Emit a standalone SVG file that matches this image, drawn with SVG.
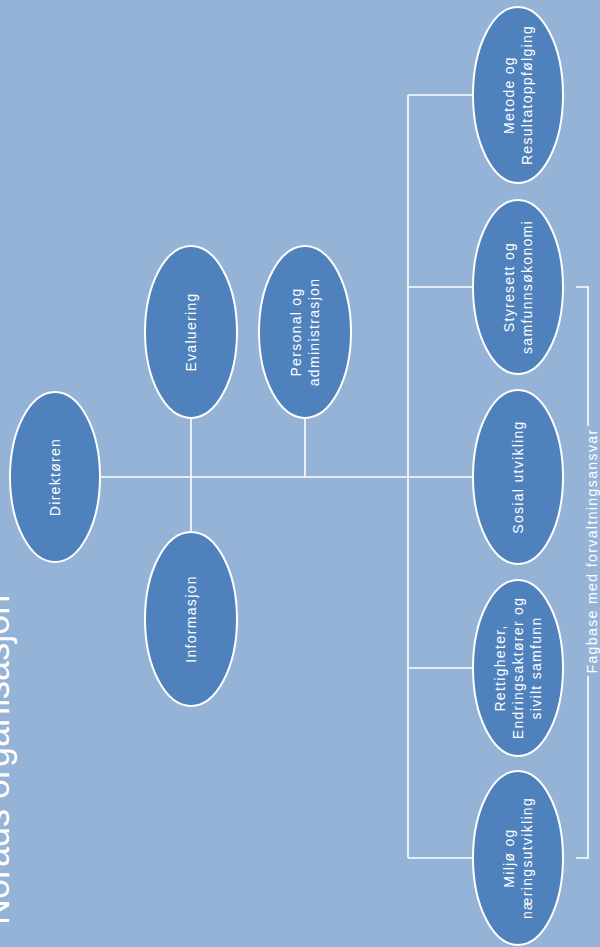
<svg xmlns="http://www.w3.org/2000/svg" width="600" height="947" viewBox="0 0 600 947">
<style>
.bg{fill:#95b3d7}
.node ellipse{fill:#4f81bd;stroke:#ffffff;stroke-width:2}
.node text{fill:#ffffff;font-family:"Liberation Sans",Arial,sans-serif;font-size:14px;letter-spacing:1.3px;text-anchor:middle}
.conn{stroke:#ffffff;stroke-width:1.6;fill:none}
.title{fill:#ffffff;font-family:"Liberation Sans",Arial,sans-serif;font-size:36px;font-weight:300}
.note{fill:#ffffff;font-family:"Liberation Sans",Arial,sans-serif;font-size:14px;letter-spacing:1.4px;text-anchor:middle}
</style>
<rect class="bg" x="0" y="0" width="600" height="947"/>
<text class="title" transform="translate(9,925) rotate(-90)">Norads organisasjon</text>
<g id="connectors" class="conn">
<path d="M100,477 H473"/>
<path d="M408,95 V858"/>
<path d="M408,95 H473"/>
<path d="M408,287 H473"/>
<path d="M408,668 H473"/>
<path d="M408,858 H473"/>
<path d="M191,419 V532"/>
<path d="M305,419 V477"/>
<path d="M576,287 H588 V426"/>
<path d="M588,676 V858 H576"/>
</g>
<text class="note" transform="translate(597,551) rotate(-90)">Fagbase med forvaltningsansvar</text>
<g id="direktoren" class="node">
<ellipse cx="55" cy="477" rx="45" ry="85"/>
<text transform="translate(55,477) rotate(-90)" y="5">Direktøren</text>
</g>
<g id="evaluering" class="node">
<ellipse cx="191" cy="332" rx="46" ry="86"/>
<text transform="translate(191,332) rotate(-90)" y="5">Evaluering</text>
</g>
<g id="personal" class="node">
<ellipse cx="305" cy="332" rx="46" ry="86"/>
<text transform="translate(305,332) rotate(-90)"><tspan x="0" y="-4">Personal og</tspan><tspan x="0" y="14">administrasjon</tspan></text>
</g>
<g id="informasjon" class="node">
<ellipse cx="191" cy="619" rx="46" ry="87"/>
<text transform="translate(191,619) rotate(-90)" y="5">Informasjon</text>
</g>
<g id="metode" class="node">
<ellipse cx="518" cy="95" rx="45" ry="88"/>
<text transform="translate(518,95) rotate(-90)"><tspan x="0" y="-4">Metode og</tspan><tspan x="0" y="14">Resultatoppfølging</tspan></text>
</g>
<g id="styresett" class="node">
<ellipse cx="518" cy="287" rx="45" ry="87"/>
<text transform="translate(518,287) rotate(-90)"><tspan x="0" y="-4">Styresett og</tspan><tspan x="0" y="14">samfunnsøkonomi</tspan></text>
</g>
<g id="sosial" class="node">
<ellipse cx="518" cy="477" rx="45" ry="87"/>
<text transform="translate(518,477) rotate(-90)" y="5">Sosial utvikling</text>
</g>
<g id="rettigheter" class="node">
<ellipse cx="518" cy="668" rx="45" ry="88"/>
<text transform="translate(518,668) rotate(-90)"><tspan x="0" y="-13">Rettigheter,</tspan><tspan x="0" y="5">Endringsaktører og</tspan><tspan x="0" y="23">sivilt samfunn</tspan></text>
</g>
<g id="miljo" class="node">
<ellipse cx="518" cy="858" rx="45" ry="87"/>
<text transform="translate(518,858) rotate(-90)"><tspan x="0" y="-4">Miljø og</tspan><tspan x="0" y="14">næringsutvikling</tspan></text>
</g>
</svg>
